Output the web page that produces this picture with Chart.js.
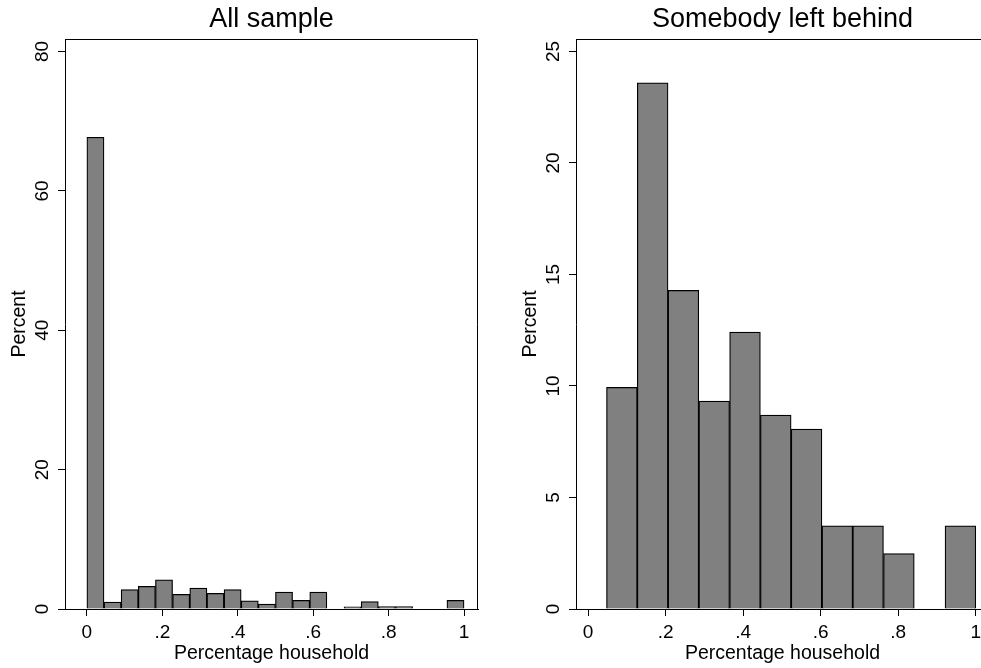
<!DOCTYPE html>
<html>
<head>
<meta charset="utf-8">
<script src="https://cdn.jsdelivr.net/npm/chart.js@4.4.0/dist/chart.umd.min.js"></script>
<style>
  html, body { margin: 0; padding: 0; background: #fff; overflow: hidden; }
  body { width: 981px; height: 668px; position: relative; }
  .panel { position: absolute; top: 0; width: 490px; height: 668px; }
</style>
</head>
<body>
<div class="panel" style="left:0"><canvas id="allChart"></canvas></div>
<div class="panel" style="left:511px"><canvas id="behindChart"></canvas></div>
<script>
// bin centres (share of household) and percent per bin
const allBins = [0.0227, 0.0682, 0.1136, 0.1591, 0.2045, 0.2500, 0.2955, 0.3409, 0.3864, 0.4318, 0.4773,
                 0.5227, 0.5682, 0.6136, 0.6591, 0.7045, 0.7500, 0.7955, 0.8409, 0.8864, 0.9318, 0.9773];
const allPercent = [67.7, 1.0, 2.77, 3.25, 4.2, 2.1, 3.0, 2.24, 2.77, 1.19, 0.72,
                    2.44, 1.24, 2.44, 0, 0.3, 1.05, 0.35, 0.35, 0, 0, 1.24];

const behindBins = [0.0873, 0.1667, 0.2460, 0.3254, 0.4048, 0.4841, 0.5635, 0.6429, 0.7222, 0.8016, 0.8810, 0.9603];
const behindPercent = [9.94, 23.6, 14.29, 9.32, 12.42, 8.70, 8.07, 3.73, 3.73, 2.48, 0, 3.73];

const xTickValues = [0, 0.2, 0.4, 0.6, 0.8, 1];
const xTickLabels = ['0', '.2', '.4', '.6', '.8', '1'];
const allYTicks = [0, 20, 40, 60, 80];
const behindYTicks = [0, 5, 10, 15, 20, 25];

Chart.defaults.font.family = '"Liberation Sans", Arial, sans-serif';
Chart.defaults.color = '#000';

// top and right sides of the plot box
const frame = {
  id: 'frame',
  afterDraw(chart) {
    const a = chart.chartArea, ctx = chart.ctx;
    ctx.save();
    ctx.strokeStyle = '#000';
    ctx.lineWidth = 1;
    ctx.beginPath();
    ctx.moveTo(a.left, a.top + 0.5);
    ctx.lineTo(a.right - 0.5, a.top + 0.5);
    ctx.lineTo(a.right - 0.5, a.bottom);
    ctx.stroke();
    ctx.restore();
  }
};

function makeHist(id, title, bins, values, xMin, xMax, yMax, yTicks) {
  return new Chart(document.getElementById(id), {
    type: 'bar',
    data: {
      datasets: [{
        data: bins.map((b, i) => ({ x: b, y: values[i] })),
        backgroundColor: '#808080',
        borderColor: '#000',
        borderWidth: 1.25,
        barPercentage: 1,
        categoryPercentage: 1
      }]
    },
    options: {
      responsive: true,
      maintainAspectRatio: false,
      animation: false,
      layout: { padding: { left: 0, right: 12, top: 0, bottom: 0 } },
      plugins: {
        legend: { display: false },
        tooltip: { enabled: false },
        title: {
          display: true,
          text: title,
          fullSize: false,
          font: { size: 27, weight: 'normal', lineHeight: 1.2 },
          color: '#000',
          padding: { top: 3, bottom: 3.6 }
        }
      },
      scales: {
        x: {
          type: 'linear',
          min: xMin,
          max: xMax,
          offset: false,
          afterBuildTicks: s => { s.ticks = xTickValues.map(v => ({ value: v })); },
          afterFit: s => { s.height = 59; },
          ticks: {
            callback: (v, i) => xTickLabels[i],
            font: { size: 19 },
            padding: 5,
            maxRotation: 0,
            autoSkip: false
          },
          grid: { offset: false, drawOnChartArea: false, drawTicks: true, tickLength: 7, tickColor: '#000' },
          border: { display: true, color: '#000', width: 1 },
          title: { display: true, text: 'Percentage household', font: { size: 19.5 }, padding: { top: 0, bottom: 3 } }
        },
        y: {
          min: 0,
          max: yMax,
          afterBuildTicks: s => { s.ticks = yTicks.map(v => ({ value: v })); },
          afterFit: s => { s.width = 65; },
          ticks: {
            font: { size: 19 },
            minRotation: 90,
            maxRotation: 90,
            crossAlign: 'center',
            padding: 5
          },
          grid: { offset: false, drawOnChartArea: false, drawTicks: true, tickLength: 7, tickColor: '#000' },
          border: { display: true, color: '#000', width: 1 },
          title: { display: true, text: 'Percent', font: { size: 19.5 }, padding: { top: 8, bottom: 0 } }
        }
      }
    },
    plugins: [frame]
  });
}

makeHist('allChart', 'All sample', allBins, allPercent, -0.058, 1.037, 81.8, allYTicks);
makeHist('behindChart', 'Somebody left behind', behindBins, behindPercent, -0.031, 1.034, 25.56, behindYTicks);
</script>
</body>
</html>
